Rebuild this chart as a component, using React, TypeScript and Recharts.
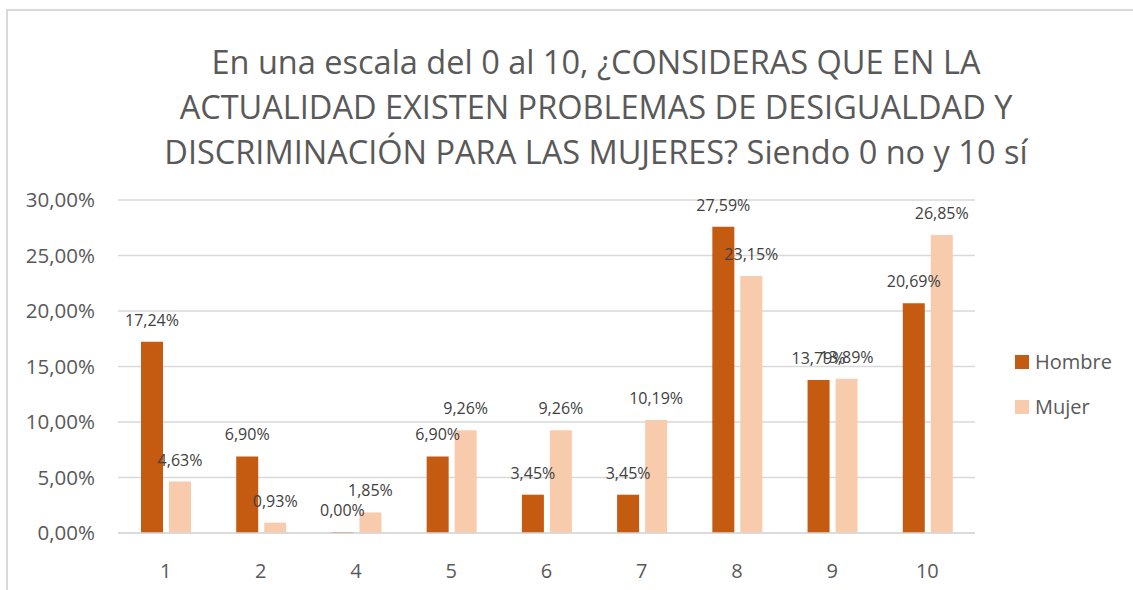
import { BarChart, Bar, XAxis, YAxis, CartesianGrid, LabelList } from "recharts";

const categories = ["1", "2", "4", "5", "6", "7", "8", "9", "10"];
const hombre = [17.24, 6.9, 0.0, 6.9, 3.45, 3.45, 27.59, 13.79, 20.69];
const mujer = [4.63, 0.93, 1.85, 9.26, 9.26, 10.19, 23.15, 13.89, 26.85];
const yTicks = [0, 5, 10, 15, 20, 25, 30];
const titleLines = [
  "En una escala del 0 al 10, ¿CONSIDERAS QUE EN LA",
  "ACTUALIDAD EXISTEN PROBLEMAS DE DESIGUALDAD Y",
  "DISCRIMINACIÓN PARA LAS MUJERES? Siendo 0 no y 10 sí",
];
const seriesNames = ["Hombre", "Mujer"];
const seriesColors = ["#C55A11", "#F8CBAD"];

const data = categories.map((c, i) => ({ name: c, Hombre: hombre[i], Mujer: mujer[i] }));

const FONT = "'Open Sans', sans-serif";
const pct = (v: number) => `${Number(v).toFixed(2).replace(".", ",")}%`;

export default function App() {
  return (
    <div style={{ position: "absolute", left: 0, top: 0, width: 1133, height: 590, overflow: "hidden", background: "#fff" }}>
      {/* chart area border (only top and left edges fall inside the crop) */}
      <div
        style={{
          position: "absolute",
          left: 6,
          top: 9,
          width: 1200,
          height: 700,
          border: "2px solid #d9d9d9",
        }}
      />
      <div
        style={{
          position: "absolute",
          left: 0,
          top: 39,
          width: 1192,
          textAlign: "center",
          fontFamily: FONT,
          fontSize: 32.5,
          lineHeight: "45px",
          color: "#595959",
        }}
      >
        {titleLines.map((l) => (
          <div key={l}>{l}</div>
        ))}
      </div>
      <div style={{ position: "absolute", left: 0, top: 0 }}>
        <BarChart
          width={1133}
          height={590}
          data={data}
          margin={{ top: 200, right: 158, left: 18, bottom: 17 }}
          barSize={22}
          barGap={6}
        >
          <CartesianGrid vertical={false} stroke="#d9d9d9" strokeWidth={1.5} />
          <XAxis
            dataKey="name"
            height={40}
            axisLine={{ stroke: "#d9d9d9", strokeWidth: 1.5 }}
            tickLine={false}
            tickMargin={25}
            tick={{ fill: "#595959", fontSize: 20, fontFamily: FONT }}
          />
          <YAxis
            width={100}
            domain={[0, 30]}
            ticks={yTicks}
            axisLine={false}
            tickLine={false}
            tickMargin={17}
            tickFormatter={pct}
            tick={{ fill: "#595959", fontSize: 20.5, fontFamily: FONT }}
          />
          {seriesNames.map((s, i) => (
            <Bar key={s} dataKey={s} fill={seriesColors[i]} minPointSize={1} isAnimationActive={false}>
              <LabelList dataKey={s} position="top" offset={16} formatter={pct} fill="#404040" fontSize={16} fontFamily={FONT} />
            </Bar>
          ))}
        </BarChart>
      </div>
      {/* legend */}
      <div style={{ position: "absolute", left: 1015, top: 339, fontFamily: FONT, fontSize: 20, color: "#595959" }}>
        {seriesNames.map((s, i) => (
          <div key={s} style={{ display: "flex", alignItems: "center", height: 45 }}>
            <span style={{ width: 14, height: 14, background: seriesColors[i], marginRight: 6, display: "inline-block" }} />
            <span>{s}</span>
          </div>
        ))}
      </div>
    </div>
  );
}
